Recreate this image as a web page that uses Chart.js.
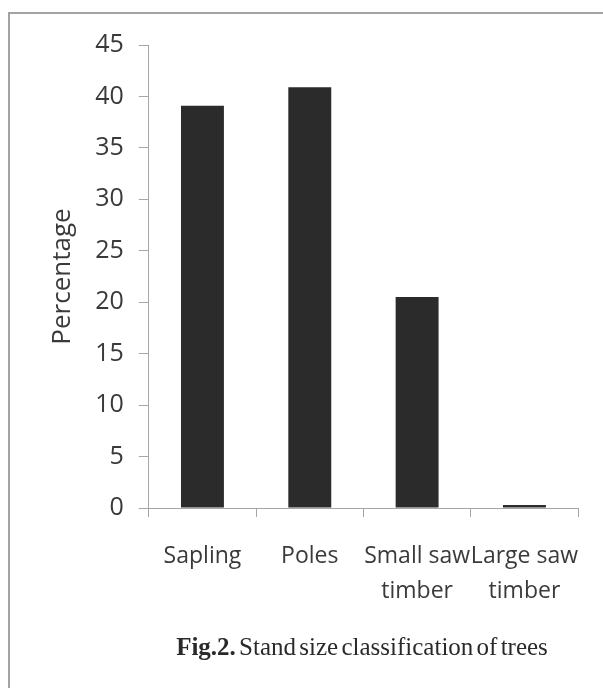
<!DOCTYPE html>
<html>
<head>
<meta charset="utf-8">
<script src="https://cdn.jsdelivr.net/npm/chart.js@4/dist/chart.umd.min.js"></script>
<style>
  html, body { margin: 0; padding: 0; background: #fff; overflow: hidden; }
  #wrap { position: relative; width: 603px; height: 688px; overflow: hidden; background: #fff; }
  #frame { position: absolute; left: 8px; top: 12px; width: 700px; height: 700px;
           border-left: 2px solid #a3a3a3; border-top: 2px solid #a3a3a3; }
  canvas { position: absolute; left: 0; top: 0; }
  #caption { position: absolute; top: 632px; left: 362px; transform: translateX(-50%);
             white-space: nowrap; font-family: "Liberation Serif", "DejaVu Serif", serif;
             font-size: 25px; color: #2a2a2a; word-spacing: -3px; line-height: 30px; }
  #caption b { font-weight: bold; }
</style>
</head>
<body>
<div id="wrap">
  <div id="frame"></div>
  <canvas id="c" width="603" height="688"></canvas>
  <div id="caption"><b>Fig.2.</b> Stand size classification of trees</div>
</div>
<script>
const categories = [["Sapling"], ["Poles"], ["Small saw", "timber"], ["Large saw", "timber"]];
const percentages = [39.1, 40.9, 20.5, 0.3];
const yMin = 0;
const yMax = 45;
const yStep = 5;
const yTitle = "Percentage";

const axisColor = '#a6a6a6';
const textColor = '#3a3a3a';

new Chart(document.getElementById('c'), {
  type: 'bar',
  data: {
    labels: categories,
    datasets: [{
      data: percentages,
      backgroundColor: '#2b2b2b',
      borderWidth: 0,
      barPercentage: 0.4,
      categoryPercentage: 1.0
    }]
  },
  options: {
    responsive: false,
    animation: false,
    devicePixelRatio: 1,
    layout: { padding: { left: 45, right: 24, top: 45, bottom: 57 } },
    plugins: { legend: { display: false }, tooltip: { enabled: false }, title: { display: false } },
    scales: {
      x: {
        grid: { display: true, drawOnChartArea: false, offset: true, tickLength: 9, color: axisColor, lineWidth: 1 },
        border: { display: true, color: axisColor, width: 1 },
        ticks: {
          color: textColor, padding: 22, maxRotation: 0, autoSkip: false,
          font: { family: '"Open Sans", sans-serif', size: 23, lineHeight: 1.52 }
        }
      },
      y: {
        min: yMin, max: yMax,
        grid: { display: true, drawOnChartArea: false, tickLength: 10, color: axisColor, lineWidth: 1 },
        border: { display: true, color: axisColor, width: 1 },
        ticks: {
          stepSize: yStep, color: textColor, padding: 15,
          font: { family: '"Open Sans", sans-serif', size: 25 }
        },
        title: {
          display: true, text: yTitle, color: textColor,
          font: { family: '"Open Sans", sans-serif', size: 26 },
          padding: { top: 2, bottom: 2 }
        }
      }
    }
  }
});
</script>
</body>
</html>
